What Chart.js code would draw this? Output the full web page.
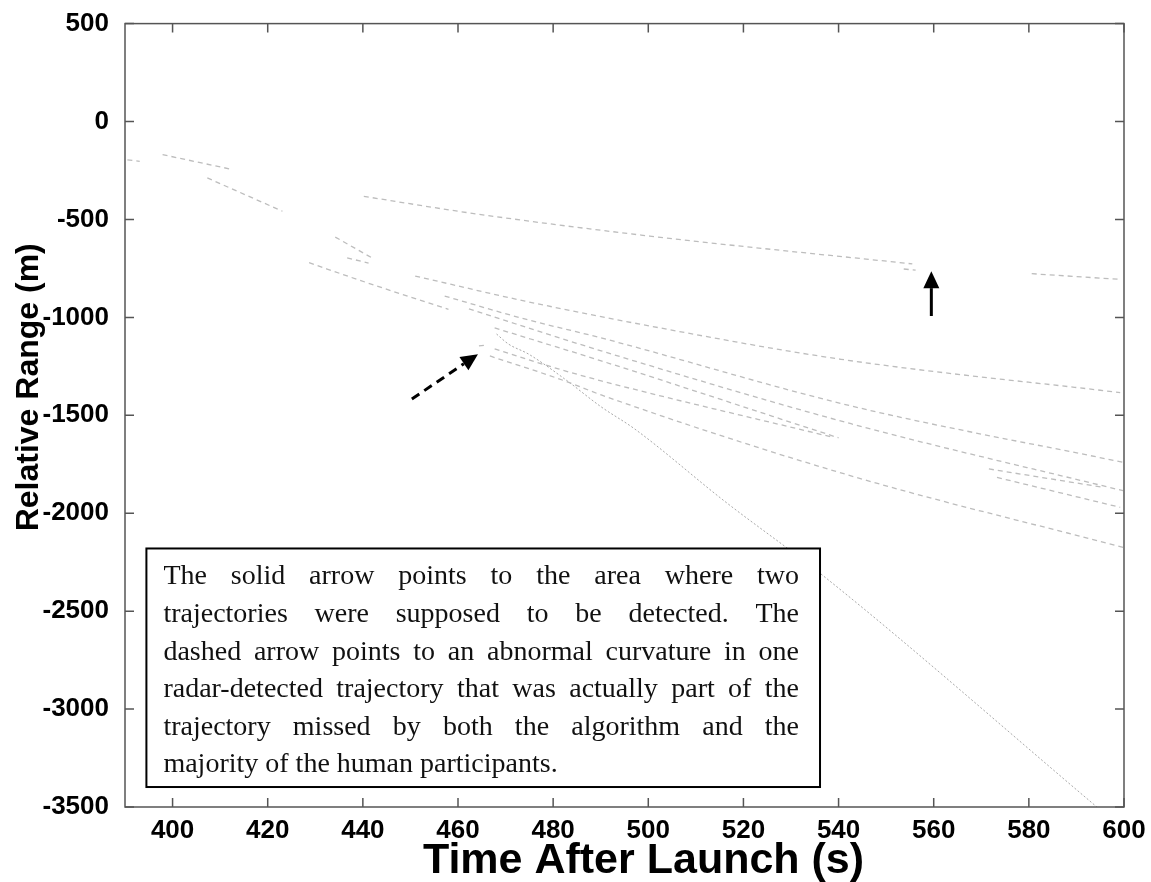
<!DOCTYPE html>
<html>
<head>
<meta charset="utf-8">
<script src="https://cdn.jsdelivr.net/npm/chart.js@4.4.0/dist/chart.umd.min.js"></script>
<style>
  html, body { margin: 0; padding: 0; background: #fff; }
  #wrap { width: 1151px; height: 882px; }
</style>
</head>
<body>
<div id="wrap"><canvas id="chart" width="1151" height="882"></canvas></div>
<script>
// tick labels
var xTicks = [400, 420, 440, 460, 480, 500, 520, 540, 560, 580, 600];
var yTicks = [500, 0, -500, -1000, -1500, -2000, -2500, -3000, -3500];

// radar tracks: [time after launch (s), relative range (m)]
var track01 = [[390.5, -196], [393.1, -203]];
var track02 = [[397.9, -169], [412.6, -245]];
var track03 = [[407.3, -288], [423.1, -458]];
var track04 = [[440.2, -382], [462.5, -467], [500.3, -585], [555.5, -727]];
var track05 = [[553.7, -753], [556.2, -759]];
var track06 = [[580.6, -777], [599.2, -806]];
var track07 = [[434.2, -590], [441.9, -696]];
var track08 = [[436.7, -696], [441.2, -723]];
var track09 = [[428.7, -721], [438.8, -806], [448.2, -882], [458.0, -959]];
var track10 = [[451.0, -789], [474.1, -917], [500.3, -1044], [540.5, -1214], [599.2, -1384]];
var track11 = [[457.2, -891], [474.0, -1008], [490.1, -1105], [542.6, -1452], [599.8, -1740]];
var track12 = [[462.3, -957], [490.1, -1171], [542.6, -1543], [599.8, -1885]];
var track13 = [[467.7, -1054], [490.1, -1222], [540.0, -1615]];
var track14 = [[467.7, -1161], [481.1, -1263], [490.1, -1324], [538.4, -1610]];
var track15 = [[466.7, -1197], [482.4, -1324], [490.1, -1396], [542.6, -1809], [599.8, -2174]];
var track16 = [[468.1, -1085], [470.6, -1136], [474.8, -1187], [482.4, -1314], [490.1, -1457],
               [497.1, -1569], [515.9, -1936], [536.7, -2318], [594.3, -3500]];
var track17 = [[464.4, -1146], [466.0, -1141]];
var track18 = [[571.6, -1774], [595.7, -1868]];
var track19 = [[573.3, -1817], [599.2, -1970]];

var xTitle = 'Time After Launch (s)';
var yTitle = 'Relative Range (m)';

var noteLines = [
  'The solid arrow points to the area where two',
  'trajectories were supposed to be detected. The',
  'dashed arrow points to an abnormal curvature in one',
  'radar-detected trajectory that was actually part of the',
  'trajectory missed by both the algorithm and the',
  'majority of the human participants.'
];

// annotation anchors in data units
var solidArrowFrom = [559.5, -993], solidArrowTo = [559.5, -764];
var dashedArrowFrom = [450.3, -1417], dashedArrowTo = [464.2, -1188];
var noteCorner1 = [394.5, -2180], noteCorner2 = [536.1, -3398];

function toPoints(arr) {
  return arr.map(function(p) { return {x: p[0], y: p[1]}; });
}

var tracks = [track01, track02, track03, track04, track05, track06, track07, track08, track09, track10,
              track11, track12, track13, track14, track15, track16, track17, track18, track19];

var datasets = tracks.map(function(t) {
  var steep = (t === track16);
  return {
    data: toPoints(t),
    showLine: true,
    pointRadius: 0,
    borderColor: steep ? '#a8a8a8' : '#bdbdbd',
    borderWidth: steep ? 1 : 1.3,
    borderDash: steep ? [2, 2] : [5, 4],
    cubicInterpolationMode: 'monotone',
    fill: false
  };
});

function drawArrow(ctx, x0, y0, x1, y1, dashed) {
  var ang = Math.atan2(y1 - y0, x1 - x0);
  var headLen = 17, headHalf = 8;
  var bx = x1 - headLen * Math.cos(ang), by = y1 - headLen * Math.sin(ang);
  ctx.save();
  ctx.strokeStyle = '#000';
  ctx.fillStyle = '#000';
  ctx.lineWidth = 3;
  if (dashed) ctx.setLineDash([9, 6]);
  ctx.beginPath();
  ctx.moveTo(x0, y0);
  ctx.lineTo(bx, by);
  ctx.stroke();
  ctx.setLineDash([]);
  ctx.beginPath();
  ctx.moveTo(x1, y1);
  ctx.lineTo(bx + headHalf * Math.sin(ang), by - headHalf * Math.cos(ang));
  ctx.lineTo(bx - headHalf * Math.sin(ang), by + headHalf * Math.cos(ang));
  ctx.closePath();
  ctx.fill();
  ctx.restore();
}

function drawLine(ctx, text, left, right, y, justify) {
  var words = text.split(' ');
  if (!justify) { ctx.fillText(text, left, y); return; }
  var total = 0;
  words.forEach(function(w) { total += ctx.measureText(w).width; });
  var gap = (right - left - total) / (words.length - 1);
  var cx = left;
  words.forEach(function(w) {
    ctx.fillText(w, cx, y);
    cx += ctx.measureText(w).width + gap;
  });
}

var extras = {
  id: 'extras',
  afterDatasetsDraw: function(chart) {
    var ctx = chart.ctx, a = chart.chartArea;
    var sx = chart.scales.x, sy = chart.scales.y;
    ctx.save();

    // box and inward ticks
    ctx.strokeStyle = '#555';
    ctx.lineWidth = 1.5;
    ctx.strokeRect(a.left, a.top, a.right - a.left, a.bottom - a.top);
    ctx.beginPath();
    xTicks.forEach(function(v) {
      var px = sx.getPixelForValue(v);
      ctx.moveTo(px, a.bottom); ctx.lineTo(px, a.bottom - 9);
      ctx.moveTo(px, a.top); ctx.lineTo(px, a.top + 9);
    });
    yTicks.forEach(function(v) {
      var py = sy.getPixelForValue(v);
      ctx.moveTo(a.left, py); ctx.lineTo(a.left + 9, py);
      ctx.moveTo(a.right, py); ctx.lineTo(a.right - 9, py);
    });
    ctx.stroke();

    // arrows
    drawArrow(ctx, sx.getPixelForValue(solidArrowFrom[0]), sy.getPixelForValue(solidArrowFrom[1]),
              sx.getPixelForValue(solidArrowTo[0]), sy.getPixelForValue(solidArrowTo[1]), false);
    drawArrow(ctx, sx.getPixelForValue(dashedArrowFrom[0]), sy.getPixelForValue(dashedArrowFrom[1]),
              sx.getPixelForValue(dashedArrowTo[0]), sy.getPixelForValue(dashedArrowTo[1]), true);

    // note box
    var bl = sx.getPixelForValue(noteCorner1[0]), bt = sy.getPixelForValue(noteCorner1[1]);
    var br = sx.getPixelForValue(noteCorner2[0]), bb = sy.getPixelForValue(noteCorner2[1]);
    ctx.fillStyle = '#fff';
    ctx.fillRect(bl, bt, br - bl, bb - bt);
    ctx.strokeStyle = '#000';
    ctx.lineWidth = 2;
    ctx.strokeRect(bl, bt, br - bl, bb - bt);

    ctx.fillStyle = '#111';
    ctx.font = '28px "Liberation Serif", serif';
    ctx.textBaseline = 'alphabetic';
    ctx.textAlign = 'left';
    noteLines.forEach(function(line, i) {
      drawLine(ctx, line, bl + 17, br - 21, bt + 36 + i * 37.6, i < noteLines.length - 1);
    });

    // axis titles (sit a little off the axis centre, as in the figure)
    ctx.fillStyle = '#000';
    ctx.textAlign = 'center';
    ctx.textBaseline = 'middle';
    ctx.font = 'bold 43px "Liberation Sans", Arial';
    ctx.fillText(xTitle, (a.left + a.right) / 2 + 19, 861);
    ctx.save();
    ctx.translate(29, (a.top + a.bottom) / 2 - 28);
    ctx.rotate(-Math.PI / 2);
    ctx.font = 'bold 32px "Liberation Sans", Arial';
    ctx.fillText(yTitle, 0, 0);
    ctx.restore();

    ctx.restore();
  }
};

new Chart(document.getElementById('chart'), {
  type: 'scatter',
  data: { datasets: datasets },
  plugins: [extras],
  options: {
    responsive: false,
    animation: false,
    devicePixelRatio: 1,
    layout: { padding: { left: 0, right: 27, top: 22, bottom: 0 } },
    plugins: { legend: { display: false }, tooltip: { enabled: false } },
    scales: {
      x: {
        type: 'linear',
        min: 390,
        max: 600,
        afterBuildTicks: function(s) { s.ticks = xTicks.map(function(v) { return {value: v}; }); },
        afterFit: function(s) { s.height = 75; },
        grid: { display: false },
        border: { display: false },
        ticks: { color: '#000', padding: 0, maxRotation: 0, callback: function(v) { return String(v); },
                 font: { family: '"Liberation Sans", Arial', size: 26, weight: 'bold' } },
        title: { display: false }
      },
      y: {
        type: 'linear',
        min: -3500,
        max: 500,
        afterBuildTicks: function(s) { s.ticks = yTicks.map(function(v) { return {value: v}; }); },
        afterFit: function(s) { s.width = 125; },
        grid: { display: false },
        border: { display: false },
        ticks: { color: '#000', padding: 8, callback: function(v) { return String(v); },
                 font: { family: '"Liberation Sans", Arial', size: 26, weight: 'bold' } },
        title: { display: false }
      }
    }
  }
});
</script>
</body>
</html>
